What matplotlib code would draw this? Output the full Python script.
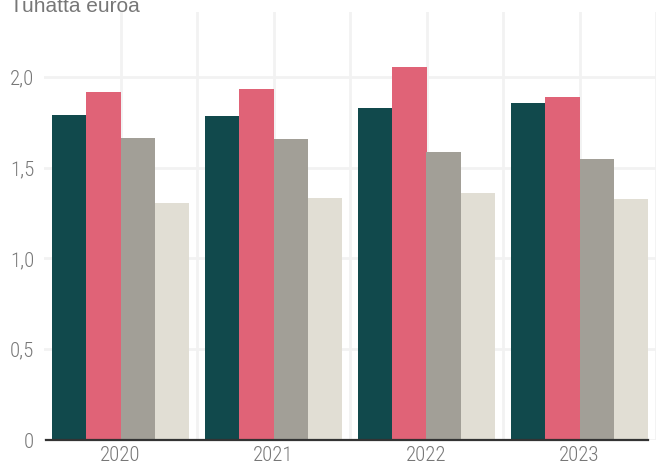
# Grouped bar chart: thousand euros per year

import numpy as np
import matplotlib.pyplot as plt
from matplotlib import font_manager
from matplotlib.ticker import FuncFormatter, MultipleLocator

years = ['2020', '2021', '2022', '2023']
series_a = [1.79, 1.785, 1.83, 1.857]
series_b = [1.917, 1.934, 2.055, 1.89]
series_c = [1.664, 1.658, 1.587, 1.548]
series_d = [1.306, 1.333, 1.361, 1.328]

colors = ['#11494c', '#e06377', '#a29f97', '#e1ded4']

# pick a narrow font if one is installed
names = {f.name for f in font_manager.fontManager.ttflist}
font = [n for n in ['Roboto Condensed', 'Liberation Sans Narrow', 'DejaVu Sans Condensed', 'Roboto']
        if n in names] + ['DejaVu Sans']

fig = plt.figure(figsize=(6.56, 4.69), dpi=100)
ax = fig.add_axes([44 / 656, 29 / 469, 612 / 656, 428 / 469])

x = np.arange(len(years))
w = 0.225
for i, (vals, c) in enumerate(zip([series_a, series_b, series_c, series_d], colors)):
    ax.bar(x + (i - 1.5) * w, vals, width=w, color=c, zorder=2)

ax.set_xlim(-0.5, 3.45)
ax.set_ylim(0, 2.358)

# grid lines
ax.yaxis.set_major_locator(MultipleLocator(0.5))
ax.set_xticks(x)
ax.set_xticks(x + 0.5, minor=True)
ax.grid(True, which='both', color='#f2f2f2', linewidth=2, zorder=0)
ax.set_axisbelow(True)

ax.yaxis.set_major_formatter(FuncFormatter(lambda v, p: '0' if v == 0 else f'{v:.1f}'.replace('.', ',')))
ax.set_xticklabels(years)
ax.tick_params(which='both', length=0, labelsize=15, labelcolor='#777777')
ax.tick_params(axis='y', pad=7)
ax.tick_params(axis='x', pad=4)
for lab in ax.get_xticklabels() + ax.get_yticklabels():
    lab.set_family(font)
    lab.set_fontweight('light')

for s in ['top', 'right', 'left']:
    ax.spines[s].set_visible(False)
ax.spines['bottom'].set_color('#333333')
ax.spines['bottom'].set_linewidth(1.6)
ax.spines['bottom'].set_bounds(-0.487, 3.45)
ax.spines['bottom'].set_zorder(3)

fig.text(10 / 656, 1 - 12 / 469, 'Tuhatta euroa', fontsize=15, color='#777777',
         family=['Liberation Sans', 'DejaVu Sans'], va='baseline', ha='left')

fig.savefig('out.png', dpi=100)
